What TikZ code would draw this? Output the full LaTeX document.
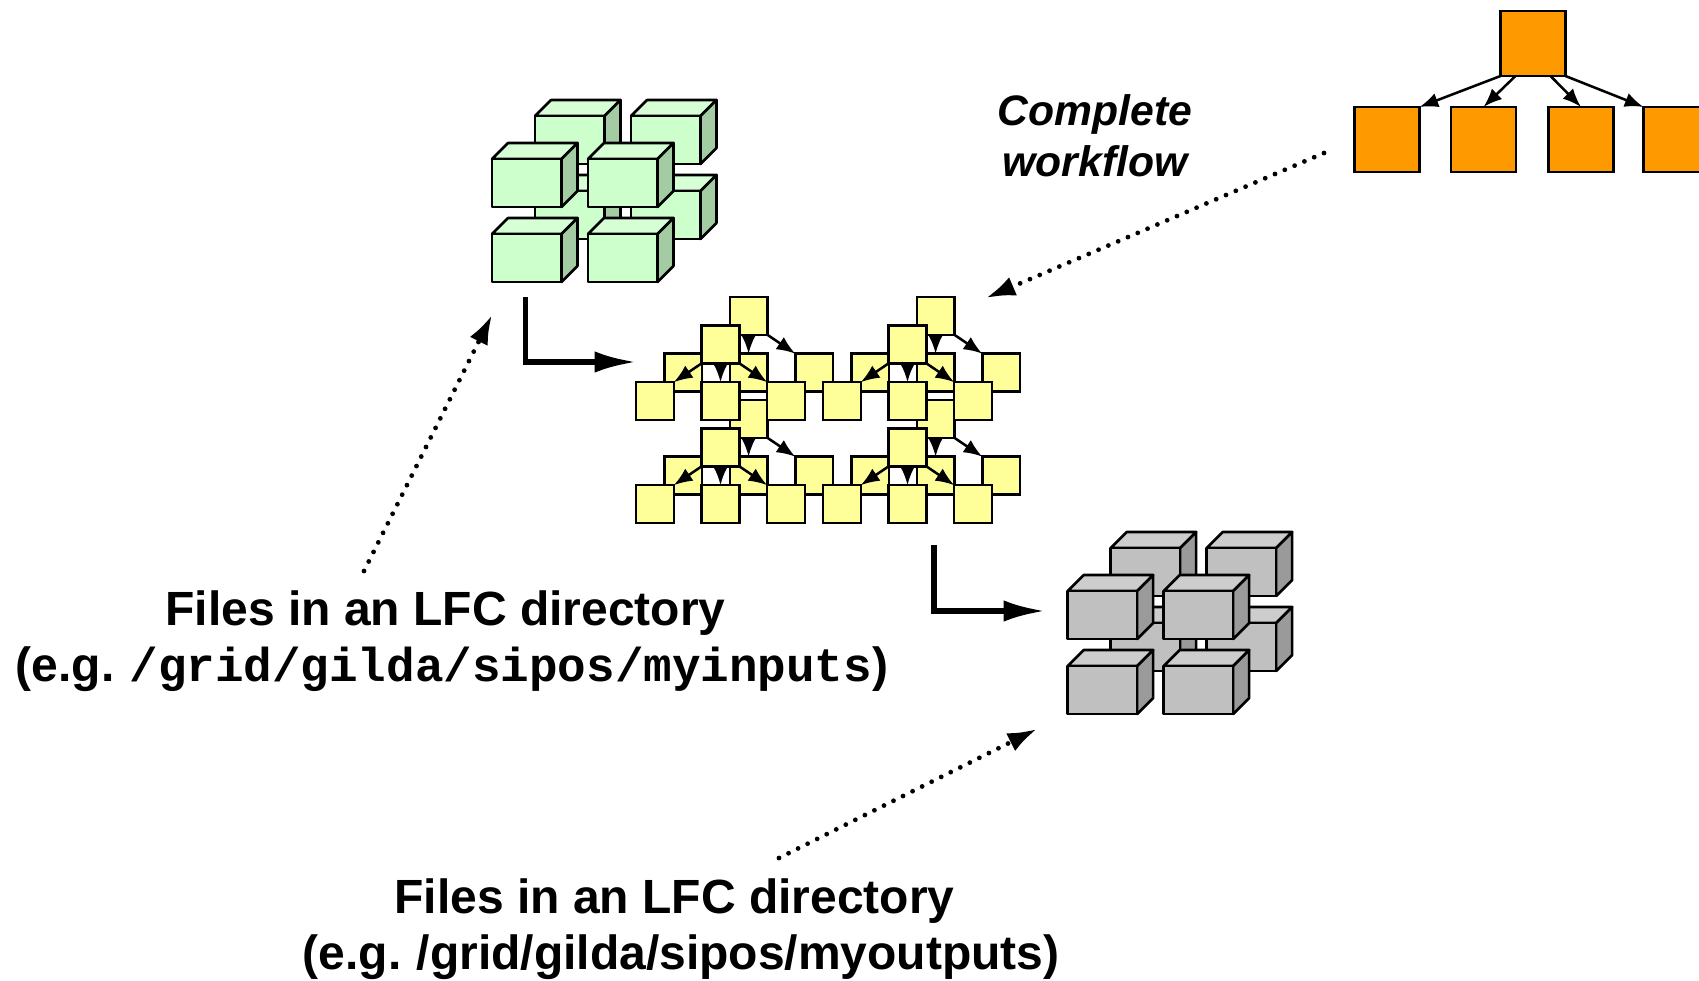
\documentclass[tikz,border=0pt]{standalone}
\usepackage{fontspec}
\setmainfont{Liberation Sans}
\setmonofont{Liberation Mono}
\usetikzlibrary{arrows.meta,calc}

\definecolor{greenface}{RGB}{204,255,204}
\definecolor{greentop}{RGB}{214,255,214}
\definecolor{greenside}{RGB}{163,204,163}
\definecolor{grayface}{RGB}{192,192,192}
\definecolor{graytop}{RGB}{205,205,205}
\definecolor{grayside}{RGB}{154,154,154}
\definecolor{stepyellow}{RGB}{255,255,153}
\definecolor{stepamber}{RGB}{255,153,0}

\tikzset{every picture/.style={line width=1.9pt}}
\tikzset{
  stepbox/.style={draw,fill=stepyellow,inner sep=0pt,outer sep=0pt,minimum size=28.2pt},
  jobbox/.style={draw,fill=stepamber,inner sep=0pt,outer sep=0pt,minimum size=48.8pt},
  dep/.style={-{Latex[length=14pt,width=11pt]}},
  flow/.style={line width=4pt,-{Latex[length=31pt,width=16pt]}},
  ref/.style={line width=3.6pt,line cap=round,dash pattern=on 0pt off 8pt,-{Latex[length=22pt,width=15pt]}},
  caption/.style={inner sep=0pt,align=center,font=\bfseries\fontsize{36}{42}\selectfont}
}

% eight cubes, #1 #2 = front left corner, #3 = colour prefix
\newcommand\cubeset[3]{
  \foreach \cx/\cy in {43/-43,139/-43,43/32,139/32,0/0,96/0,0/75,96/75}{
    \begin{scope}[shift={(#1+\cx,#2+\cy)},line join=round]
      \draw [fill=#3top] (0,0) -- (16,-16) -- (85.5,-16) -- (69.5,0) -- cycle ;
      \draw [fill=#3side] (69.5,0) -- (85.5,-16) -- (85.5,32) -- (69.5,48) -- cycle ;
      \draw [fill=#3face] (0,0) rectangle (69.5,48) ;
    \end{scope}
  }
}

\begin{document}
\begin{tikzpicture}[x=0.75pt,y=0.75pt,yscale=-1,xscale=1]
    \clip (0,0) rectangle (1699,981);
    %Shape: input files
    \cubeset{492}{159}{green}
    %Shape: output files
    \cubeset{1067.7}{591}{gray}
    %Shape: job units, all back layers first
    \foreach \lx/\ly/\l in {748.6/316/back,720.5/344.5/front}{
      \foreach \ux/\uy/\u in {0/0/a,187/0/b,0/103/c,187/103/d}{
        \node [stepbox] (\l\u top) at (\lx+\ux,\ly+\uy) {};
        \node [stepbox] (\l\u left) at (\lx+\ux-65.5,\ly+\uy+56.5) {};
        \node [stepbox] (\l\u mid) at (\lx+\ux,\ly+\uy+56.5) {};
        \node [stepbox] (\l\u right) at (\lx+\ux+65.5,\ly+\uy+56.5) {};
        \draw [dep] (\l\u top.south west) -- (\l\u left.north east);
        \draw [dep] (\l\u top.south) -- (\l\u mid.north);
        \draw [dep] (\l\u top.south east) -- (\l\u right.north west);
      }
    }
    %Shape: workflow
    \node [jobbox] (root) at (1533,43.5) {};
    \node [jobbox] (job1) at (1387,139.5) {};
    \node [jobbox] (job2) at (1483.5,139.5) {};
    \node [jobbox] (job3) at (1581,139.5) {};
    \node [jobbox] (job4) at (1676,139.5) {};
    \draw [dep] (root.south west) -- (job1.north east);
    \draw [dep] ($(root.south west)!0.23!(root.south east)$) -- (job2.north);
    \draw [dep] ($(root.south west)!0.77!(root.south east)$) -- (job3.north);
    \draw [dep] (root.south east) -- (job4.north west);
    % Text Node
    \node [caption,font=\bfseries\itshape\fontsize{32}{38}\selectfont] (wflabel) at (1095,136) {Complete\\workflow};
    % Text Node
    \node [caption] (inlabel) at (445.4,641) {Files in an LFC directory\\\hspace*{9.8pt}(e.g.\kern-2pt{} {\ttfamily\fontsize{35.7}{42}\selectfont /grid/gilda/sipos/myinputs})};
    % Text Node
    \node [caption] (outlabel) at (674.6,929.5) {Files in an LFC directory\\\hspace*{9.8pt}(e.g.\kern-2pt{} /grid/gilda/sipos/myoutputs)};
    %Connectors
    \coordinate (inA) at (525.5,297);
    \coordinate (inB) at (525.5,362);
    \coordinate (inC) at (636,362);
    \coordinate (outA) at (934,545);
    \coordinate (outB) at (934,611);
    \coordinate (outC) at (1045,611);
    \draw [flow] (inA) -- (inB) -- (inC);
    \draw [flow] (outA) -- (outB) -- (outC);
    \coordinate (wfA) at (1324,153);
    \coordinate (wfB) at (986,298);
    \coordinate (inrefA) at (364,571);
    \coordinate (inrefB) at (492,315);
    \coordinate (outrefA) at (779,858);
    \coordinate (outrefB) at (1037,729);
    \draw [ref] (wfA) -- (wfB);
    \draw [ref] (inrefA) -- (inrefB);
    \draw [ref] (outrefA) -- (outrefB);
\end{tikzpicture}
\end{document}
